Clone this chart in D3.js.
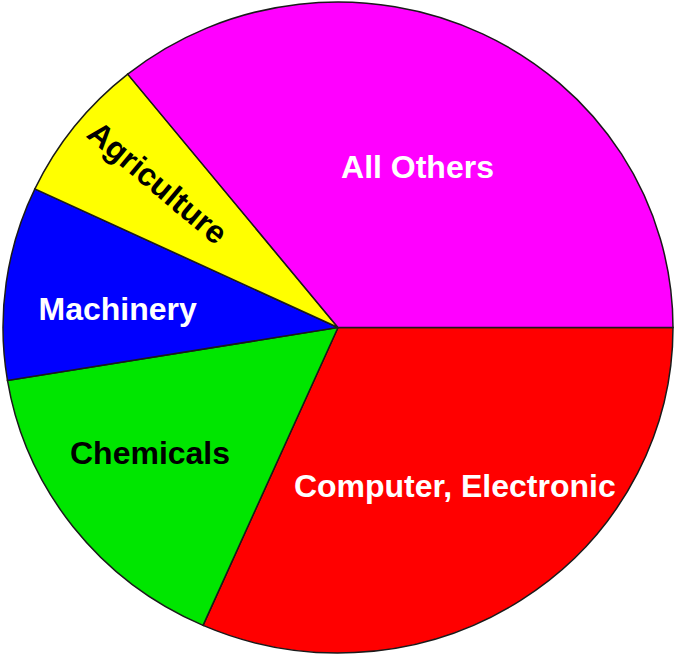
<!DOCTYPE html>
<html>
<head>
<meta charset="utf-8">
<script src="https://cdn.jsdelivr.net/npm/d3@7"></script>
<style>
	body { margin: 0; background: #fff; }
	.slice-label { font-family: "Liberation Sans", Arial, sans-serif; font-weight: bold; font-size: 32px; }
</style>
</head>
<body>
<svg id="pie"></svg>
<script>
// Slice data, clockwise from 3 o'clock
const categories = ["Computer, Electronic", "Chemicals", "Machinery", "Agriculture", "All Others"];
const shares = [31.6, 15.8, 9.6, 7.2, 35.8];
const sliceColors = ["#ff0000", "#00e600", "#0000ff", "#ffff00", "#ff00ff"];
const labelColors = ["#ffffff", "#000000", "#ffffff", "#000000", "#ffffff"];

// label placement (fraction of radius, nudge, rotation)
const labelSpots = {
	"Computer, Electronic": {k: 0.60, dx: 7, dy: -5, rot: 0},
	"Chemicals": {k: 0.68, dx: -8, dy: -10, rot: 0},
	"Machinery": {k: 0.655, dx: -3, dy: 11, rot: 0},
	"Agriculture": {k: 0.70, dx: 4, dy: -4, rot: 40},
	"All Others": {k: 0.55, dx: 0, dy: 1, rot: 0}
};

const svgWidth = 675;
const svgHeight = 655;
const cx = 338, cy = 327.5;
const rx = 335, ry = 325.5;
const squash = ry / rx;

const svg = d3.select('#pie')
	.attr("width", svgWidth)
	.attr("height", svgHeight);

const data = categories.map((c, i) => ({name: c, value: shares[i], color: sliceColors[i], text: labelColors[i]}));

const pie = d3.pie()
	.sort(null)
	.value(d => d.value)
	.startAngle(Math.PI / 2)
	.endAngle(Math.PI / 2 + 2 * Math.PI);

const arcs = pie(data);
const arc = d3.arc().innerRadius(0).outerRadius(rx);

// Slices drawn as a circle squashed to the ellipse
const g = svg.append("g")
	.attr("transform", "translate(" + cx + "," + cy + ") scale(1," + squash + ")");

g.selectAll(".slice")
	.data(arcs)
	.enter().append("path")
		.attr("class", "slice")
		.attr("d", arc)
		.style("fill", d => d.data.color)
		.style("stroke", "#1a1a1a")
		.style("stroke-width", 1.5)
		.attr("vector-effect", "non-scaling-stroke");

// Labels
const labels = svg.append("g")
	.attr("transform", "translate(" + cx + "," + cy + ")");

labels.selectAll(".slice-label")
	.data(arcs)
	.enter().append("text")
		.attr("class", "slice-label")
		.attr("text-anchor", "middle")
		.attr("dominant-baseline", "central")
		.attr("transform", d => {
			const spot = labelSpots[d.data.name];
			const r = rx * spot.k;
			const c = d3.arc().innerRadius(r).outerRadius(r).centroid(d);
			return "translate(" + (c[0] + spot.dx) + "," + (c[1] * squash + spot.dy) + ") rotate(" + spot.rot + ")";
		})
		.style("fill", d => d.data.text)
		.text(d => d.data.name);
</script>
</body>
</html>
